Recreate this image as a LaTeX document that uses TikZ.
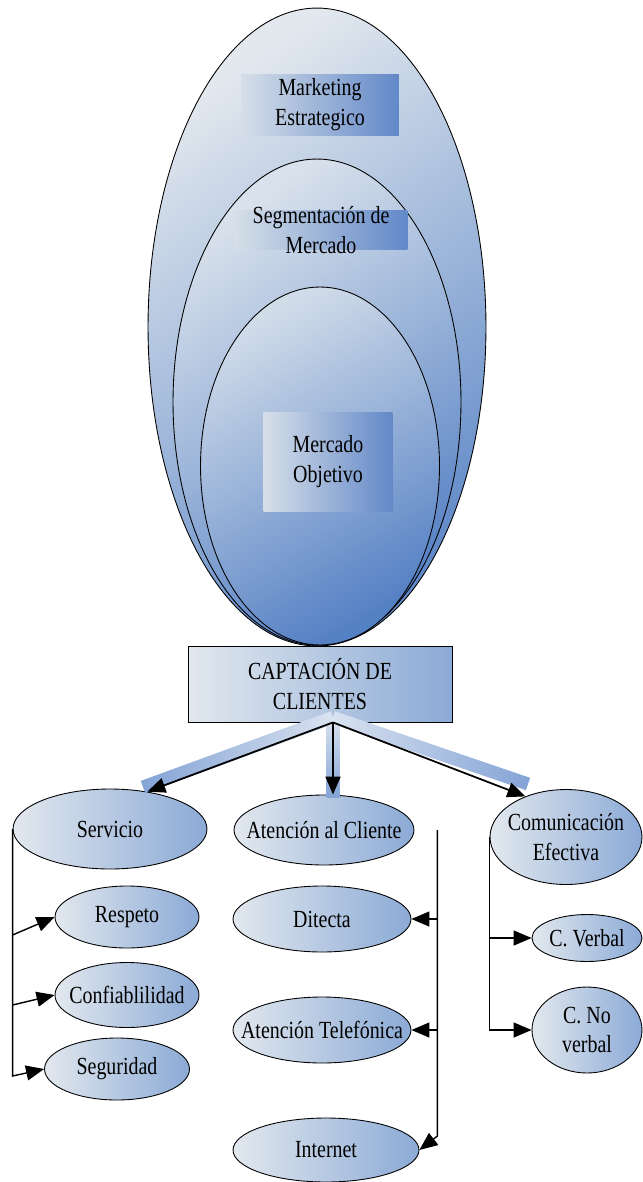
\documentclass[tikz,border=0pt]{standalone}
\usepackage{fontspec}
\setmainfont{Liberation Serif}[FakeStretch=0.81]
\usepackage{tikz}
\usetikzlibrary{arrows.meta,shapes.geometric,calc}
\definecolor{paleblue} {RGB}{226,232,238}
\definecolor{midblue}  {RGB}{139,170,214}
\definecolor{deepblue} {RGB}{ 84,128,196}
\definecolor{tagpale}  {RGB}{214,223,232}
\definecolor{tagblue}  {RGB}{ 98,136,200}
\definecolor{bandpale} {RGB}{218,227,240}
\definecolor{bandblue} {RGB}{132,163,214}
% light-blue band under each of the three top arrows
\newcommand\arrowband[3]{%
  \shade[#3] ($(#1)!0.13cm!90:(#2)$) -- ($(#2)!0.13cm!-90:(#1)$)
    -- ($(#2)!0.13cm!90:(#1)$) -- ($(#1)!0.13cm!-90:(#2)$) -- cycle;}

\begin{document}
\begin{tikzpicture}[
  % one unit = one pixel of the 642 x 1182 sheet, y pointing down
  x={(0.02cm,0)},
  y={(0,-0.02cm)},
  >={Triangle[length=0.36cm,width=0.3cm]},
  font=\fontsize{14}{17}\selectfont,
  bubble/.style={ellipse,draw=black,line width=0.5pt,
    left color=paleblue,right color=midblue,inner sep=-2cm,align=center},
  tag/.style={rectangle,left color=tagpale,right color=tagblue,
    inner sep=-2cm,align=center},
  flow/.style={line width=1pt,->},
  branch/.style={line width=0.8pt,->}
]
\useasboundingbox (0,0) rectangle (642,1182);

% ---- nested ovals --------------------------------------------------------
\shade[draw=black,line width=0.5pt,top color=paleblue,bottom color=deepblue!80!midblue,
  shading angle=35] (317,327) ellipse [x radius=3.38cm,y radius=6.38cm];
\shade[draw=black,line width=0.5pt,top color=paleblue!90!midblue,bottom color=deepblue,
  shading angle=35] (317,402) ellipse [x radius=2.88cm,y radius=4.86cm];
\shade[draw=black,line width=0.5pt,top color=paleblue!80!midblue,bottom color=deepblue,
  shading angle=30] (320,466) ellipse [x radius=2.39cm,y radius=3.58cm];

\node[tag,minimum width=3.16cm,minimum height=1.22cm] (mkt) at (320,105)
  {Marketing\\Estrategico};
\node[tag,minimum width=3.46cm,minimum height=0.78cm] (seg) at (321,230)
  {Segmentación de\\Mercado};
\node[tag,minimum width=2.58cm,minimum height=1.98cm] (obj) at (328,462)
  {Mercado\\Objetivo};

% ---- main box and the three arrows --------------------------------------
\node[tag,draw=black,line width=0.5pt,left color=paleblue,right color=midblue,
  minimum width=5.28cm,minimum height=1.52cm] (capt) at (320,684)
  {CAPTACIÓN DE\\CLIENTES};

\node[bubble,minimum width=3.88cm,minimum height=1.6cm] (serv) at (110,829) {Servicio};
\node[bubble,minimum width=3.6cm,minimum height=1.4cm] (aten) at (324,830) {Atención al Cliente};
\node[bubble,minimum width=3.04cm,minimum height=1.9cm] (comu) at (566,837) {Comunicación\\Efectiva};

\coordinate (hub) at ($(capt.south)+(13,0)$);
\coordinate (bandtop) at ($(hub)+(0,-5)$);
\coordinate (lend) at (143,787);
\coordinate (mend) at (333,797);
\coordinate (rend) at (528,784);
\arrowband{bandtop}{lend}{left color=bandblue,right color=bandpale}
\arrowband{bandtop}{mend}{top color=bandpale,bottom color=bandblue}
\arrowband{bandtop}{rend}{left color=bandpale,right color=bandblue}

\draw[flow] (hub) -- (serv.45);
\draw[flow] (hub) -- (hub |- aten.north);
\draw[flow] (hub) -- (comu.135);

% ---- Servicio branch -----------------------------------------------------
\node[bubble,minimum width=2.88cm,minimum height=1.24cm] (resp) at (127,917) {Respeto};
\node[bubble,minimum width=2.88cm,minimum height=1.3cm] (conf) at (127,995) {Confiablilidad};
\node[bubble,minimum width=2.9cm,minimum height=1.24cm] (segu) at (117,1069) {Seguridad};

\draw[branch] (serv.west) -- ($(serv.west |- segu.west)+(0,7)$) -- (segu.west);
\draw[branch] ($(serv.west |- resp.west)+(0,18)$) -- (resp.west);
\draw[branch] ($(serv.west |- conf.west)+(0,10)$) -- (conf.west);

% ---- Atención al Cliente branch ------------------------------------------
\node[bubble,minimum width=3.56cm,minimum height=1.32cm] (dite) at (322,919) {Ditecta};
\node[bubble,minimum width=3.56cm,minimum height=1.32cm] (tele) at (322,1030) {Atención Telefónica};
\node[bubble,minimum width=3.72cm,minimum height=1.28cm] (inte) at (326,1150) {Internet};

\coordinate (atrail) at ($(aten.east)+(23,0)$);
\draw[branch] (atrail) -- ($(atrail |- inte.east)+(0,-14)$) -- (inte.east);
\draw[branch] (atrail |- dite.east) -- (dite.east);
\draw[branch] (atrail |- tele.east) -- (tele.east);

% ---- Comunicación Efectiva branch ----------------------------------------
\node[bubble,minimum width=2.2cm,minimum height=0.94cm] (verb) at (587,938) {C. Verbal};
\node[bubble,minimum width=2.2cm,minimum height=1.72cm] (nove) at (587,1030) {C. No\\verbal};

\draw[branch] (comu.west) -- (comu.west |- nove.west) -- (nove.west);
\draw[branch] (comu.west |- verb.west) -- (verb.west);

\end{tikzpicture}
\end{document}
